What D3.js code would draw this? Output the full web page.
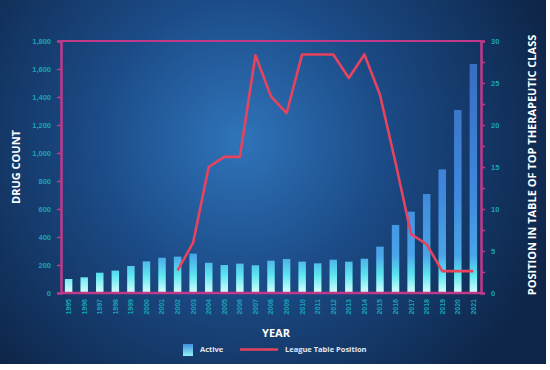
<!DOCTYPE html>
<html>
<head>
<meta charset="utf-8">
<script src="https://cdn.jsdelivr.net/npm/d3@7"></script>
<style>
  body { margin: 0; background: #fff; }
  svg { display: block; font-family: "Open Sans", "DejaVu Sans", sans-serif; }
</style>
</head>
<body>
<div id="chart"></div>
<script>
const years = d3.range(1995, 2022).map(String);
const activeCounts = [100, 112, 145, 160, 193, 226, 252, 260, 281, 216, 200, 210, 198, 231,
                      243, 224, 212, 238, 224, 245, 331, 486, 581, 707, 883, 1307, 1636];
const leagueYears = d3.range(2002, 2022).map(String);
const leaguePosition = [2.7, 6, 15, 16.2, 16.2, 28.3, 23.4, 21.4, 28.4, 28.4, 28.4, 25.6, 28.4,
                        23.6, 15.5, 7, 5.8, 2.6, 2.6, 2.6];
const leftTicks = d3.range(0, 1801, 200);

const W = 550, H = 370;
const margin = { top: 41, right: 69, bottom: 77, left: 61 };
const width = W - margin.left - margin.right;
const height = H - margin.top - margin.bottom;

const svg = d3.select("#chart").append("svg")
    .attr("width", W)
    .attr("height", H);

const defs = svg.append("defs");
const bg = defs.append("radialGradient")
    .attr("id", "bg")
    .attr("gradientUnits", "userSpaceOnUse")
    .attr("cx", 240).attr("cy", 140).attr("r", 330);
bg.append("stop").attr("offset", "0%").attr("stop-color", "#2f74ba");
bg.append("stop").attr("offset", "45%").attr("stop-color", "#1b4a85");
bg.append("stop").attr("offset", "100%").attr("stop-color", "#0d2548");

// bar colour depends on height in the plot, not on the bar
const barGrad = defs.append("linearGradient")
    .attr("id", "barGrad")
    .attr("gradientUnits", "userSpaceOnUse")
    .attr("x1", 0).attr("x2", 0)
    .attr("y1", 0).attr("y2", height);
barGrad.append("stop").attr("offset", "0%").attr("stop-color", "#3868bc");
barGrad.append("stop").attr("offset", "60%").attr("stop-color", "#3f88dc");
barGrad.append("stop").attr("offset", "85%").attr("stop-color", "#4aa4e8");
barGrad.append("stop").attr("offset", "93%").attr("stop-color", "#5ee6f0");
barGrad.append("stop").attr("offset", "100%").attr("stop-color", "#d8ffff");

const legGrad = defs.append("linearGradient")
    .attr("id", "legGrad")
    .attr("x1", 0).attr("x2", 0).attr("y1", 0).attr("y2", 1);
legGrad.append("stop").attr("offset", "0%").attr("stop-color", "#3f8fe0");
legGrad.append("stop").attr("offset", "100%").attr("stop-color", "#8ff4f8");

svg.append("rect")
    .attr("width", 546).attr("height", 364)
    .attr("fill", "url(#bg)");

const g = svg.append("g")
    .attr("transform", `translate(${margin.left},${margin.top})`);

const x = d3.scaleBand().domain(years).range([0, width]).paddingInner(0.52).paddingOuter(0.25);
const yLeft = d3.scaleLinear().domain([0, 1800]).range([height, 0]);
const yRight = d3.scaleLinear().domain([0, 30]).range([height, 0]);

// bars
g.selectAll(".bar")
    .data(activeCounts)
    .enter()
    .append("rect")
    .attr("class", "bar")
    .attr("x", (d, i) => x(years[i]))
    .attr("y", d => yLeft(d))
    .attr("width", x.bandwidth())
    .attr("height", d => height - yLeft(d))
    .attr("fill", "url(#barGrad)");

// frame
const frameColor = "#c13a8a";
g.append("line").attr("x1", 0).attr("x2", width).attr("y1", 0).attr("y2", 0)
    .attr("stroke", frameColor).attr("stroke-width", 2);
g.append("line").attr("x1", 0).attr("x2", width).attr("y1", height).attr("y2", height)
    .attr("stroke", frameColor).attr("stroke-width", 2.5);

// left axis
const leftAxis = g.append("g")
    .call(d3.axisLeft(yLeft).tickValues(leftTicks).tickFormat(d3.format(",")).tickSize(4).tickPadding(6));
leftAxis.select(".domain").attr("stroke", frameColor).attr("stroke-width", 2.5);
leftAxis.selectAll(".tick line").attr("stroke", frameColor).attr("stroke-width", 1.5);
leftAxis.selectAll("text")
    .attr("fill", "#1aa3b8").attr("font-size", 7.5).attr("font-weight", "bold");

// right axis
const rightAxis = g.append("g")
    .attr("transform", `translate(${width},0)`)
    .call(d3.axisRight(yRight).tickValues(d3.range(0, 30.1, 2.5)).tickFormat(d => d % 5 === 0 ? d : "").tickSize(4).tickPadding(6));
rightAxis.select(".domain").attr("stroke", frameColor).attr("stroke-width", 2.5);
rightAxis.selectAll(".tick line").attr("stroke", frameColor).attr("stroke-width", 1.5);
rightAxis.selectAll("text")
    .attr("fill", "#1aa3b8").attr("font-size", 7.5).attr("font-weight", "bold");

// x axis labels
const xAxis = g.append("g")
    .attr("transform", `translate(0,${height})`)
    .call(d3.axisBottom(x).tickSize(0).tickPadding(0));
xAxis.select(".domain").remove();
xAxis.selectAll("text")
    .attr("transform", "rotate(-90)")
    .attr("text-anchor", "end")
    .attr("x", -6)
    .attr("y", 0)
    .attr("dy", "0.35em")
    .attr("fill", "#1aa3b8").attr("font-size", 7).attr("font-weight", "bold");

// league line
const line = d3.line()
    .x((d, i) => x(leagueYears[i]) + x.bandwidth() / 2)
    .y(d => yRight(d));
g.append("path")
    .datum(leaguePosition)
    .attr("d", line)
    .attr("fill", "none")
    .attr("stroke", "#e8435e")
    .attr("stroke-width", 2.6)
    .attr("stroke-linejoin", "round");

// axis titles
svg.append("text")
    .attr("transform", `translate(20,${margin.top + height / 2}) rotate(-90)`)
    .attr("text-anchor", "middle")
    .attr("fill", "#fff").attr("font-size", 11).attr("font-weight", "bold")
    .text("DRUG COUNT");
svg.append("text")
    .attr("transform", `translate(536,${margin.top + height / 2 - 2}) rotate(-90)`)
    .attr("text-anchor", "middle")
    .attr("fill", "#fff").attr("font-size", 11).attr("font-weight", "bold")
    .text("POSITION IN TABLE OF TOP THERAPEUTIC CLASS");
svg.append("text")
    .attr("x", 276).attr("y", 337)
    .attr("text-anchor", "middle")
    .attr("fill", "#fff").attr("font-size", 11).attr("font-weight", "bold")
    .text("YEAR");

// legend
const legend = svg.append("g");
legend.append("rect")
    .attr("x", 183).attr("y", 344).attr("width", 10).attr("height", 12)
    .attr("fill", "url(#legGrad)");
legend.append("text")
    .attr("x", 200).attr("y", 352)
    .attr("fill", "#e0e8f4").attr("font-size", 7.5).attr("font-weight", "bold")
    .text("Active");
legend.append("line")
    .attr("x1", 240).attr("x2", 278).attr("y1", 349.5).attr("y2", 349.5)
    .attr("stroke", "#e8435e").attr("stroke-width", 2.6);
legend.append("text")
    .attr("x", 285).attr("y", 352)
    .attr("fill", "#e0e8f4").attr("font-size", 7.5).attr("font-weight", "bold")
    .text("League Table Position");
</script>
</body>
</html>
